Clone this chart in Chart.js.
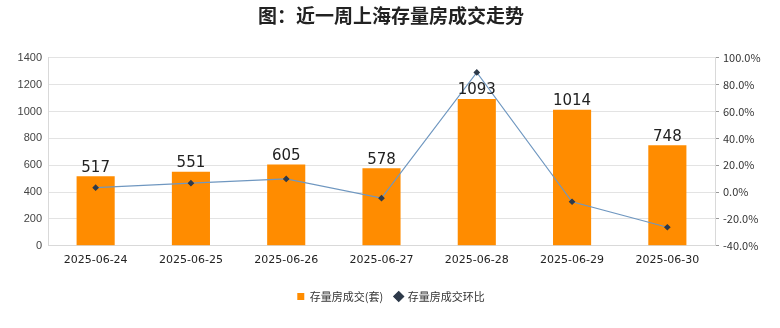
<!DOCTYPE html>
<html>
<head>
<meta charset="utf-8">
<script src="https://cdn.jsdelivr.net/npm/chart.js@4/dist/chart.umd.min.js"></script>
<style>
  html, body { margin: 0; padding: 0; background: #fff; }
  #wrap { width: 780px; height: 328px; }
</style>
</head>
<body>
<div id="wrap"><canvas id="chart"></canvas></div>
<script>
// data
const dates = ['2025-06-24', '2025-06-25', '2025-06-26', '2025-06-27', '2025-06-28', '2025-06-29', '2025-06-30'];
const deals = [517, 551, 605, 578, 1093, 1014, 748];
const changePct = [3.3, 6.6, 9.8, -4.5, 89.1, -7.2, -26.2];

const cjk = '"Noto Sans CJK SC", "Noto Sans", sans-serif';

// numbers above the bars
const barLabels = {
    id: 'barLabels',
    afterDatasetsDraw(chart) {
        const ctx = chart.ctx;
        const meta = chart.getDatasetMeta(1); // bar dataset
        ctx.save();
        ctx.font = '15px "DejaVu Sans", sans-serif';
        ctx.fillStyle = '#222';
        ctx.textAlign = 'center';
        ctx.textBaseline = 'bottom';
        meta.data.forEach((bar, i) => {
            ctx.fillText(deals[i], bar.x, bar.y - 1);
        });
        ctx.restore();
    }
};

const ctx = document.getElementById('chart').getContext('2d');
const chart = new Chart(ctx, {
    data: {
        labels: dates,
        datasets: [{
            type: 'line',
            label: '存量房成交环比',
            data: changePct,
            yAxisID: 'y2',
            borderColor: '#6f97c0',
            borderWidth: 1.2,
            pointStyle: 'rectRot',
            pointRadius: 2.5,
            pointBackgroundColor: '#2e3a4a',
            pointBorderColor: '#2e3a4a',
            tension: 0,
            order: 0
        }, {
            type: 'bar',
            label: '存量房成交(套)',
            data: deals,
            yAxisID: 'y',
            backgroundColor: '#ff8c00',
            barPercentage: 0.4,
            categoryPercentage: 1,
            pointStyle: 'rect',
            order: 1
        }]
    },
    options: {
        responsive: true,
        maintainAspectRatio: false,
        animation: false,
        layout: { padding: { left: 4, right: 2, top: 0, bottom: 16 } },
        plugins: {
            title: {
                display: true,
                text: '图：近一周上海存量房成交走势',
                color: '#222',
                font: { family: cjk, size: 19, weight: 'bold' },
                padding: { top: 4, bottom: 31 }
            },
            legend: {
                position: 'bottom',
                reverse: true,
                labels: {
                    usePointStyle: true,
                    boxWidth: 7,
                    boxHeight: 7,
                    padding: 12,
                    color: '#333',
                    font: { family: cjk, size: 11 }
                }
            },
            tooltip: { enabled: false }
        },
        scales: {
            x: {
                afterFit(scale) { scale.height += 12; },
                grid: { display: false },
                border: { color: '#d9d9d9' },
                ticks: { color: '#222', font: { family: '"DejaVu Sans", sans-serif', size: 11 }, maxRotation: 0, padding: 0 }
            },
            y: {
                position: 'left',
                min: 0,
                max: 1400,
                afterFit(scale) { scale.width = 44; },
                ticks: {
                    stepSize: 200,
                    color: '#444',
                    font: { family: '"Liberation Sans", sans-serif', size: 11 },
                    padding: 6,
                    callback: v => String(v)
                },
                grid: { color: '#e3e3e3', drawTicks: false },
                border: { color: '#d9d9d9' }
            },
            y2: {
                position: 'right',
                min: -40,
                max: 100,
                afterFit(scale) { scale.width = 63; },
                ticks: {
                    stepSize: 10,
                    color: '#333',
                    font: { family: cjk, size: 11 },
                    padding: 4,
                    callback: v => (v % 20 === 0 ? v.toFixed(1) + '%' : '')
                },
                grid: { drawOnChartArea: false, tickLength: 4, color: '#999' },
                border: { color: '#d9d9d9' }
            }
        }
    },
    plugins: [barLabels]
});
</script>
</body>
</html>
